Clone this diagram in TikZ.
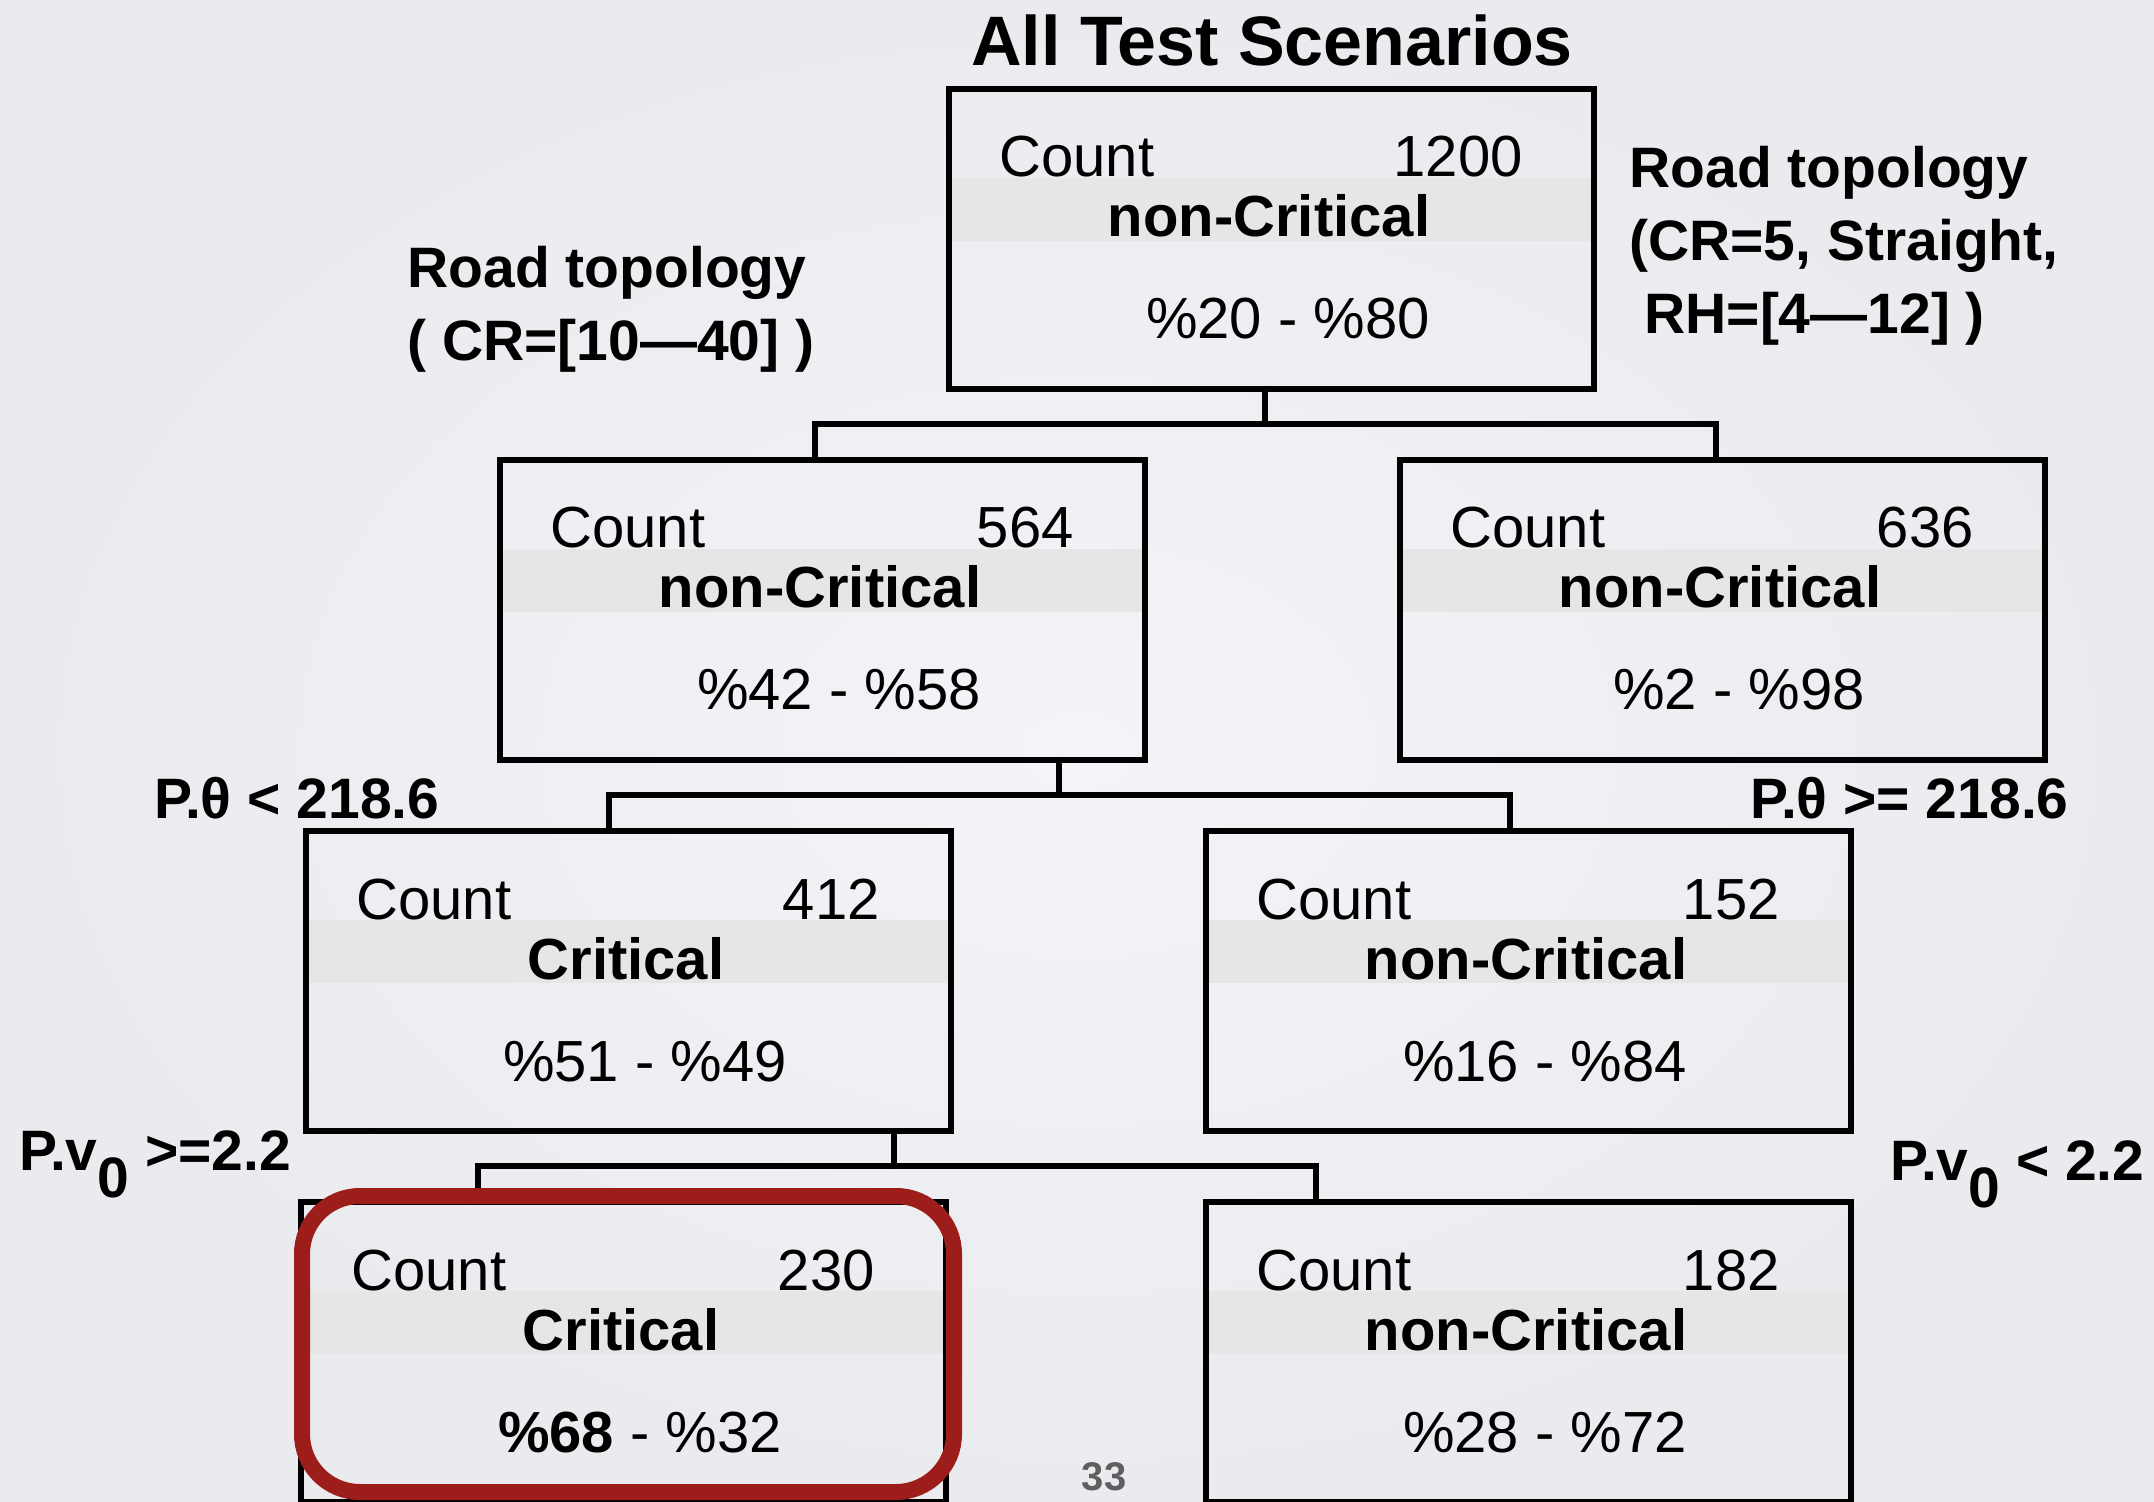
\documentclass[tikz,border=0pt]{standalone}
\usepackage{fontspec}
\setmainfont{Liberation Sans}
\usetikzlibrary{calc}

\definecolor{bgcenter}{RGB}{243,244,247}
\definecolor{bgedge}{RGB}{233,235,239}
\definecolor{bandgray}{RGB}{230,230,230}
\definecolor{hlred}{RGB}{157,29,27}
\definecolor{pagenum}{RGB}{95,95,95}

\tikzset{
  boxframe/.style={draw=black, line width=3.3pt, minimum width=322.5pt,
    minimum height=150pt, inner sep=0pt, outer sep=0pt, anchor=north west},
  boxtxt/.style={inner sep=0pt, font=\fontsize{29pt}{34pt}\selectfont},
  boxcls/.style={inner sep=0pt, font=\fontsize{29pt}{34pt}\selectfont\bfseries},
  lbl/.style={inner sep=0pt, font=\fontsize{28.5pt}{36pt}\selectfont\bfseries,
    anchor=base west},
  conn/.style={line width=3.1pt, line cap=round},
}

% one tree node: name, left x, top y, count, class, split percentages
\newcommand\treebox[6]{%
  \fill[bandgray] ({#2+3},{#3+89}) rectangle ({#2+642},{#3+152});
  \node[boxframe] (#1) at (#2,#3) {};
  \node[boxtxt, anchor=base west] (#1-cnt) at ({#2+50},{#3+88}) {Count};
  \node[boxtxt, anchor=base east] (#1-num) at ({#2+574},{#3+88}) {#4};
  \node[boxcls, anchor=base] (#1-cls) at ({#2+320},{#3+148}) {#5};
  \node[boxtxt, anchor=base] (#1-pct) at ({#2+339},{#3+250}) {#6};
}

\begin{document}
\begin{tikzpicture}[x=0.5pt,y=-0.5pt]
\shade[inner color=bgcenter, outer color=bgedge] (0,0) rectangle (2154,1502);
\useasboundingbox (0,0) rectangle (2154,1502);

\node[inner sep=0pt, anchor=base, font=\fontsize{35pt}{40pt}\selectfont\bfseries]
  (title) at (1272,66) {All Test Scenarios};

\treebox{root}{949}{89}{1200}{non-Critical}{\%20 - \%80}
\treebox{nA}{500}{460}{564}{non-Critical}{\%42 - \%58}
\treebox{nB}{1400}{460}{636}{non-Critical}{\%2 - \%98}
\treebox{nC}{306}{831}{412}{Critical}{\%51 - \%49}
\treebox{nD}{1206}{831}{152}{non-Critical}{\%16 - \%84}
\treebox{nE}{301}{1202}{230}{Critical}{\textbf{\%68} - \%32}
\treebox{nF}{1206}{1202}{182}{non-Critical}{\%28 - \%72}

% split connectors
\coordinate (j1) at (1265,424);
\coordinate (b1l) at (815,424);
\coordinate (b1r) at (1716,424);
\draw[conn] (root.south -| j1) -- (j1);
\draw[conn] (nA.north -| b1l) -- (b1l) -- (b1r) -- (nB.north -| b1r);

\coordinate (j2) at (1059,795);
\coordinate (b2l) at (609,795);
\coordinate (b2r) at (1510,795);
\draw[conn] (nA.south -| j2) -- (j2);
\draw[conn] (nC.north -| b2l) -- (b2l) -- (b2r) -- (nD.north -| b2r);

\coordinate (j3) at (894,1166);
\coordinate (b3l) at (478,1166);
\coordinate (b3r) at (1316,1166);
\draw[conn] (nC.south -| j3) -- (j3);
\draw[conn] (nE.north -| b3l) -- (b3l) -- (b3r) -- (nF.north -| b3r);

% highlight of the selected leaf
\draw[hlred, line width=8pt, rounded corners=29pt] (302,1196) rectangle (954,1492);

% split conditions
\node[lbl] (topoL1) at (407,288) {Road topology};
\node[lbl] (topoL2) at (407,361) {( CR=[10—40] )};
\node[lbl] (topoR1) at (1629,188) {Road topology};
\node[lbl] (topoR2) at (1629,261) {(CR=5, Straight,};
\node[lbl] (topoR3) at (1644,334) {RH=[4—12] )};
\node[lbl] (thetaL) at (154,819) {P.θ < 218.6};
\node[lbl] (thetaR) at (1750,819) {P.θ >= 218.6};
\node[lbl] (velL) at (19,1170) {P.v\raisebox{-13.5pt}{0} >=2.2};
\node[lbl] (velR) at (1890,1180) {P.v\raisebox{-13.5pt}{0} < 2.2};

\node[inner sep=0pt, anchor=base, font=\fontsize{20pt}{24pt}\selectfont\bfseries,
  text=pagenum] (pgno) at (1104,1490) {33};
\end{tikzpicture}
\end{document}
